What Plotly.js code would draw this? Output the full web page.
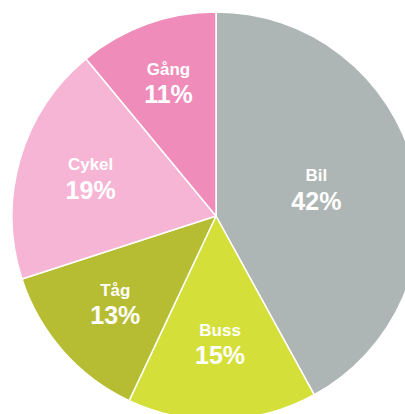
<!DOCTYPE html>
<html>
<head>
<meta charset="utf-8">
<script src="https://cdn.plot.ly/plotly-3.0.1.min.js"></script>
<style>
html,body{margin:0;padding:0;width:405px;height:414px;overflow:hidden;background:#fff;}
#chart{position:absolute;left:12px;top:12px;width:408px;height:408px;}
</style>
</head>
<body>
<div id="chart"></div>
<script>
var categories = ["Bil", "Buss", "Tåg", "Cykel", "Gång"];
var shares = [42, 15, 13, 19, 11];
var colors = ["#aeb6b5", "#d5df3a", "#b6bd33", "#f7b5d5", "#f08cba"];

var tpl = "<b><span style='font-size:17px'>%{label}</span></b><br><b><span style='font-size:25px'>%{value}%</span></b>";
// slices whose labels sit a bit closer to the centre in the reference
var innerLabels = ["Buss", "Tåg", "Gång"];
var outerTpl = categories.map(function (c) { return innerLabels.indexOf(c) < 0 ? tpl : ""; });
var innerTpl = categories.map(function (c) { return innerLabels.indexOf(c) >= 0 ? tpl : ""; });

var font = {family: "Liberation Sans, Arial, sans-serif", size: 22, color: "#ffffff"};

var pie = {
  type: "pie",
  labels: categories,
  values: shares,
  sort: false,
  direction: "clockwise",
  rotation: 0,
  marker: {colors: colors, line: {color: "#ffffff", width: 1.5}},
  textposition: "inside",
  insidetextorientation: "horizontal",
  texttemplate: outerTpl,
  textfont: font,
  hoverinfo: "none",
  domain: {x: [0, 1], y: [0, 1]}
};

var labelsLayer = {
  type: "pie",
  labels: categories,
  values: shares,
  sort: false,
  direction: "clockwise",
  rotation: 0,
  marker: {colors: categories.map(function () { return "rgba(0,0,0,0)"; }), line: {width: 0}},
  textposition: "inside",
  insidetextorientation: "horizontal",
  texttemplate: innerTpl,
  textfont: font,
  hoverinfo: "none",
  domain: {x: [0.04, 0.96], y: [0.04, 0.96]}
};

var layout = {
  width: 408,
  height: 408,
  margin: {l: 0, r: 0, t: 0, b: 0, pad: 0},
  showlegend: false,
  paper_bgcolor: "#ffffff",
  plot_bgcolor: "#ffffff"
};

Plotly.newPlot("chart", [pie, labelsLayer], layout, {displayModeBar: false, staticPlot: true});
</script>
</body>
</html>
